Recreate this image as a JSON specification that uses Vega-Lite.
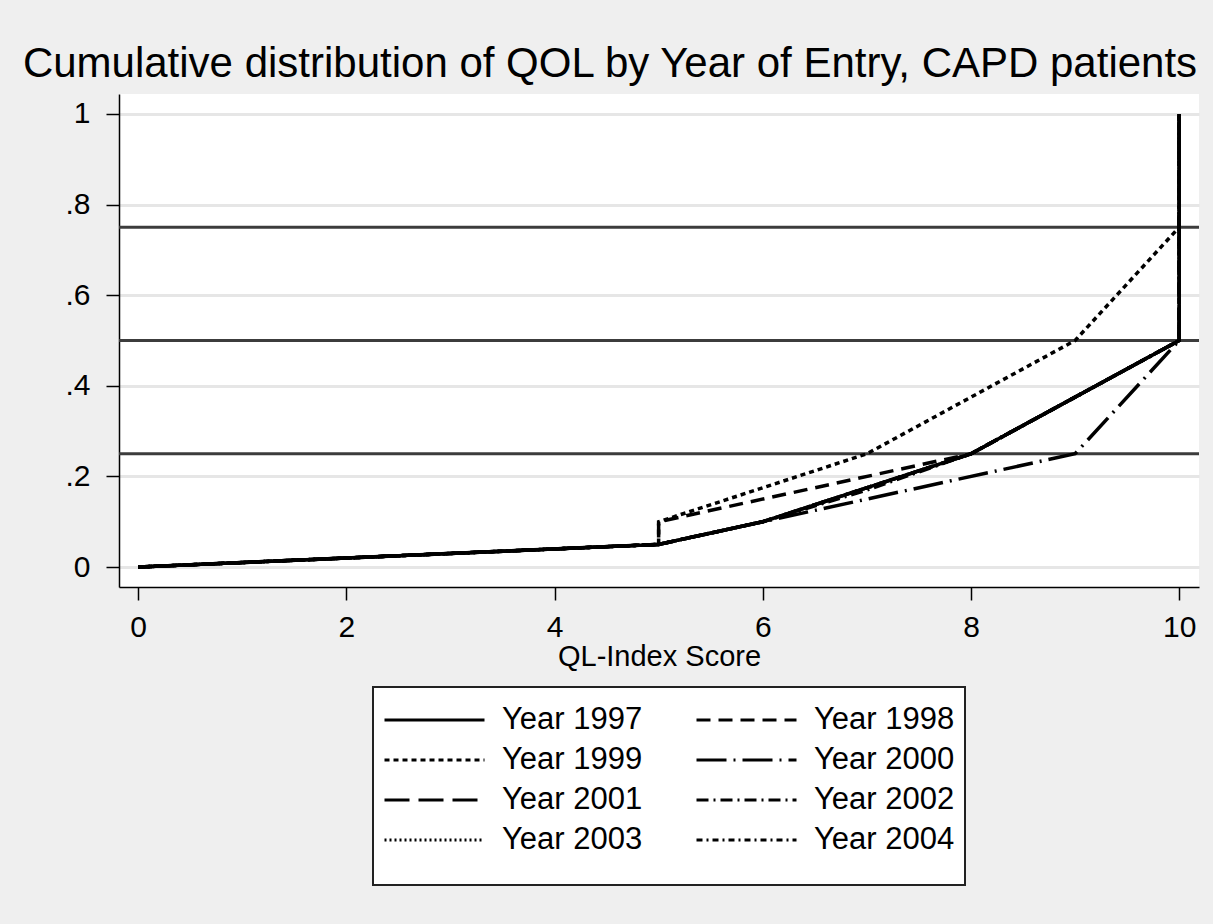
{
  "$schema": "https://vega.github.io/schema/vega-lite/v6.json",
  "width": 1080,
  "height": 493,
  "autosize": {"type": "none"},
  "padding": {"left": 119, "top": 94, "right": 14, "bottom": 337},
  "background": "#efefef",
  "title": {
    "text": "Cumulative distribution of QOL by Year of Entry, CAPD patients",
    "font": "Liberation Sans",
    "fontSize": 42,
    "fontWeight": "normal",
    "color": "black",
    "anchor": "middle",
    "dx": -49,
    "dy": 41,
    "baseline": "alphabetic",
    "offset": 16
  },
  "datasets": {
    "refs": [{"ref": 0.25}, {"ref": 0.5}, {"ref": 0.75}],
    "cdf": [
      {"year": "Year 1997", "i": 1, "score": 0, "cdf": 0},
      {"year": "Year 1997", "i": 2, "score": 5, "cdf": 0.05},
      {"year": "Year 1997", "i": 3, "score": 6, "cdf": 0.1},
      {"year": "Year 1997", "i": 4, "score": 8, "cdf": 0.25},
      {"year": "Year 1997", "i": 5, "score": 10, "cdf": 0.5},
      {"year": "Year 1997", "i": 6, "score": 10, "cdf": 1},
      {"year": "Year 1998", "i": 1, "score": 0, "cdf": 0},
      {"year": "Year 1998", "i": 2, "score": 5, "cdf": 0.05},
      {"year": "Year 1998", "i": 3, "score": 5, "cdf": 0.1},
      {"year": "Year 1998", "i": 4, "score": 8, "cdf": 0.25},
      {"year": "Year 1998", "i": 5, "score": 10, "cdf": 0.5},
      {"year": "Year 1998", "i": 6, "score": 10, "cdf": 1},
      {"year": "Year 1999", "i": 1, "score": 0, "cdf": 0},
      {"year": "Year 1999", "i": 2, "score": 5, "cdf": 0.05},
      {"year": "Year 1999", "i": 3, "score": 5, "cdf": 0.1},
      {"year": "Year 1999", "i": 4, "score": 7, "cdf": 0.25},
      {"year": "Year 1999", "i": 5, "score": 9, "cdf": 0.5},
      {"year": "Year 1999", "i": 6, "score": 10, "cdf": 0.75},
      {"year": "Year 1999", "i": 7, "score": 10, "cdf": 1},
      {"year": "Year 2000", "i": 1, "score": 0, "cdf": 0},
      {"year": "Year 2000", "i": 2, "score": 5, "cdf": 0.05},
      {"year": "Year 2000", "i": 3, "score": 6, "cdf": 0.1},
      {"year": "Year 2000", "i": 4, "score": 9, "cdf": 0.25},
      {"year": "Year 2000", "i": 5, "score": 10, "cdf": 0.5},
      {"year": "Year 2000", "i": 6, "score": 10, "cdf": 1},
      {"year": "Year 2001", "i": 1, "score": 0, "cdf": 0},
      {"year": "Year 2001", "i": 2, "score": 5, "cdf": 0.05},
      {"year": "Year 2001", "i": 3, "score": 6, "cdf": 0.1},
      {"year": "Year 2001", "i": 4, "score": 8, "cdf": 0.25},
      {"year": "Year 2001", "i": 5, "score": 10, "cdf": 0.5},
      {"year": "Year 2001", "i": 6, "score": 10, "cdf": 1},
      {"year": "Year 2002", "i": 1, "score": 0, "cdf": 0},
      {"year": "Year 2002", "i": 2, "score": 5, "cdf": 0.05},
      {"year": "Year 2002", "i": 3, "score": 6, "cdf": 0.1},
      {"year": "Year 2002", "i": 4, "score": 7, "cdf": 0.17},
      {"year": "Year 2002", "i": 5, "score": 8, "cdf": 0.25},
      {"year": "Year 2002", "i": 6, "score": 10, "cdf": 0.5},
      {"year": "Year 2002", "i": 7, "score": 10, "cdf": 1},
      {"year": "Year 2003", "i": 1, "score": 0, "cdf": 0},
      {"year": "Year 2003", "i": 2, "score": 5, "cdf": 0.05},
      {"year": "Year 2003", "i": 3, "score": 6, "cdf": 0.1},
      {"year": "Year 2003", "i": 4, "score": 8, "cdf": 0.25},
      {"year": "Year 2003", "i": 5, "score": 10, "cdf": 0.5},
      {"year": "Year 2003", "i": 6, "score": 10, "cdf": 1},
      {"year": "Year 2004", "i": 1, "score": 0, "cdf": 0},
      {"year": "Year 2004", "i": 2, "score": 5, "cdf": 0.05},
      {"year": "Year 2004", "i": 3, "score": 6, "cdf": 0.1},
      {"year": "Year 2004", "i": 4, "score": 8, "cdf": 0.25},
      {"year": "Year 2004", "i": 5, "score": 10, "cdf": 0.5},
      {"year": "Year 2004", "i": 6, "score": 10, "cdf": 1}
    ]
  },
  "layer": [
    {
      "data": {"name": "refs"},
      "mark": {"type": "rule", "color": "#3c3c3c", "strokeWidth": 3},
      "encoding": {
        "y": {
          "field": "ref",
          "type": "quantitative",
          "scale": {"domain": [-0.044, 1.044], "nice": false, "zero": false},
          "title": null
        }
      }
    },
    {
      "data": {"name": "cdf"},
      "mark": {"type": "line", "color": "black", "strokeWidth": 3.5, "strokeCap": "butt", "strokeJoin": "miter"},
      "encoding": {
        "x": {
          "field": "score",
          "type": "quantitative",
          "scale": {"domain": [-0.183, 10.19], "nice": false, "zero": false},
          "axis": {
            "values": [0, 2, 4, 6, 8, 10],
            "grid": false,
            "title": "QL-Index Score",
            "labelPadding": 12,
            "titlePadding": 0
          }
        },
        "y": {
          "field": "cdf",
          "type": "quantitative",
          "scale": {"domain": [-0.044, 1.044], "nice": false, "zero": false},
          "title": null,
          "axis": {
            "values": [0, 0.2, 0.4, 0.6, 0.8, 1],
            "grid": true,
            "gridColor": "#e6e6e6",
            "gridWidth": 3,
            "labelPadding": 16,
            "labelExpr": "datum.value == 0 ? '0' : datum.value == 1 ? '1' : replace(format(datum.value, '.1f'), '0.', '.')"
          }
        },
        "order": {"field": "i", "type": "quantitative"},
        "strokeDash": {
          "field": "year",
          "type": "nominal",
          "scale": {
            "domain": ["Year 1997", "Year 1998", "Year 1999", "Year 2000", "Year 2001", "Year 2002", "Year 2003", "Year 2004"],
            "range": [[1, 0], [14, 8], [5, 4], [30, 7, 2, 7], [25, 9], [12, 5, 2, 5], [2, 3], [6, 4, 2, 4]]
          },
          "legend": {
            "title": " ",
            "titleOrient": "bottom",
            "titleFontSize": 8,
            "titlePadding": 12,
            "orient": "none",
            "legendX": 254,
            "legendY": 593,
            "columns": 2,
            "direction": "horizontal",
            "symbolType": "stroke",
            "symbolSize": 10000,
            "symbolStrokeWidth": 3,
            "symbolStrokeColor": "black",
            "labelFont": "Liberation Sans",
            "labelFontSize": 31,
            "labelColor": "black",
            "labelOffset": 16,
            "labelLimit": 400,
            "columnPadding": 47,
            "rowPadding": 2,
            "padding": 10,
            "fillColor": "white",
            "strokeColor": "#222222",
            "encode": {
              "symbols": {"update": {"y": {"value": 23}}},
              "labels": {"update": {"y": {"value": 23}}}
            }
          }
        }
      }
    }
  ],
  "config": {
    "view": {"stroke": null, "fill": "white"},
    "legend": {"strokeWidth": 2},
    "axis": {
      "domainColor": "black",
      "domainWidth": 1.5,
      "tickColor": "black",
      "tickWidth": 1.5,
      "tickSize": 13,
      "labelFont": "Liberation Sans",
      "labelFontSize": 30,
      "labelColor": "black",
      "titleFont": "Liberation Sans",
      "titleFontSize": 29,
      "titleFontWeight": "normal",
      "titleColor": "black"
    }
  }
}
